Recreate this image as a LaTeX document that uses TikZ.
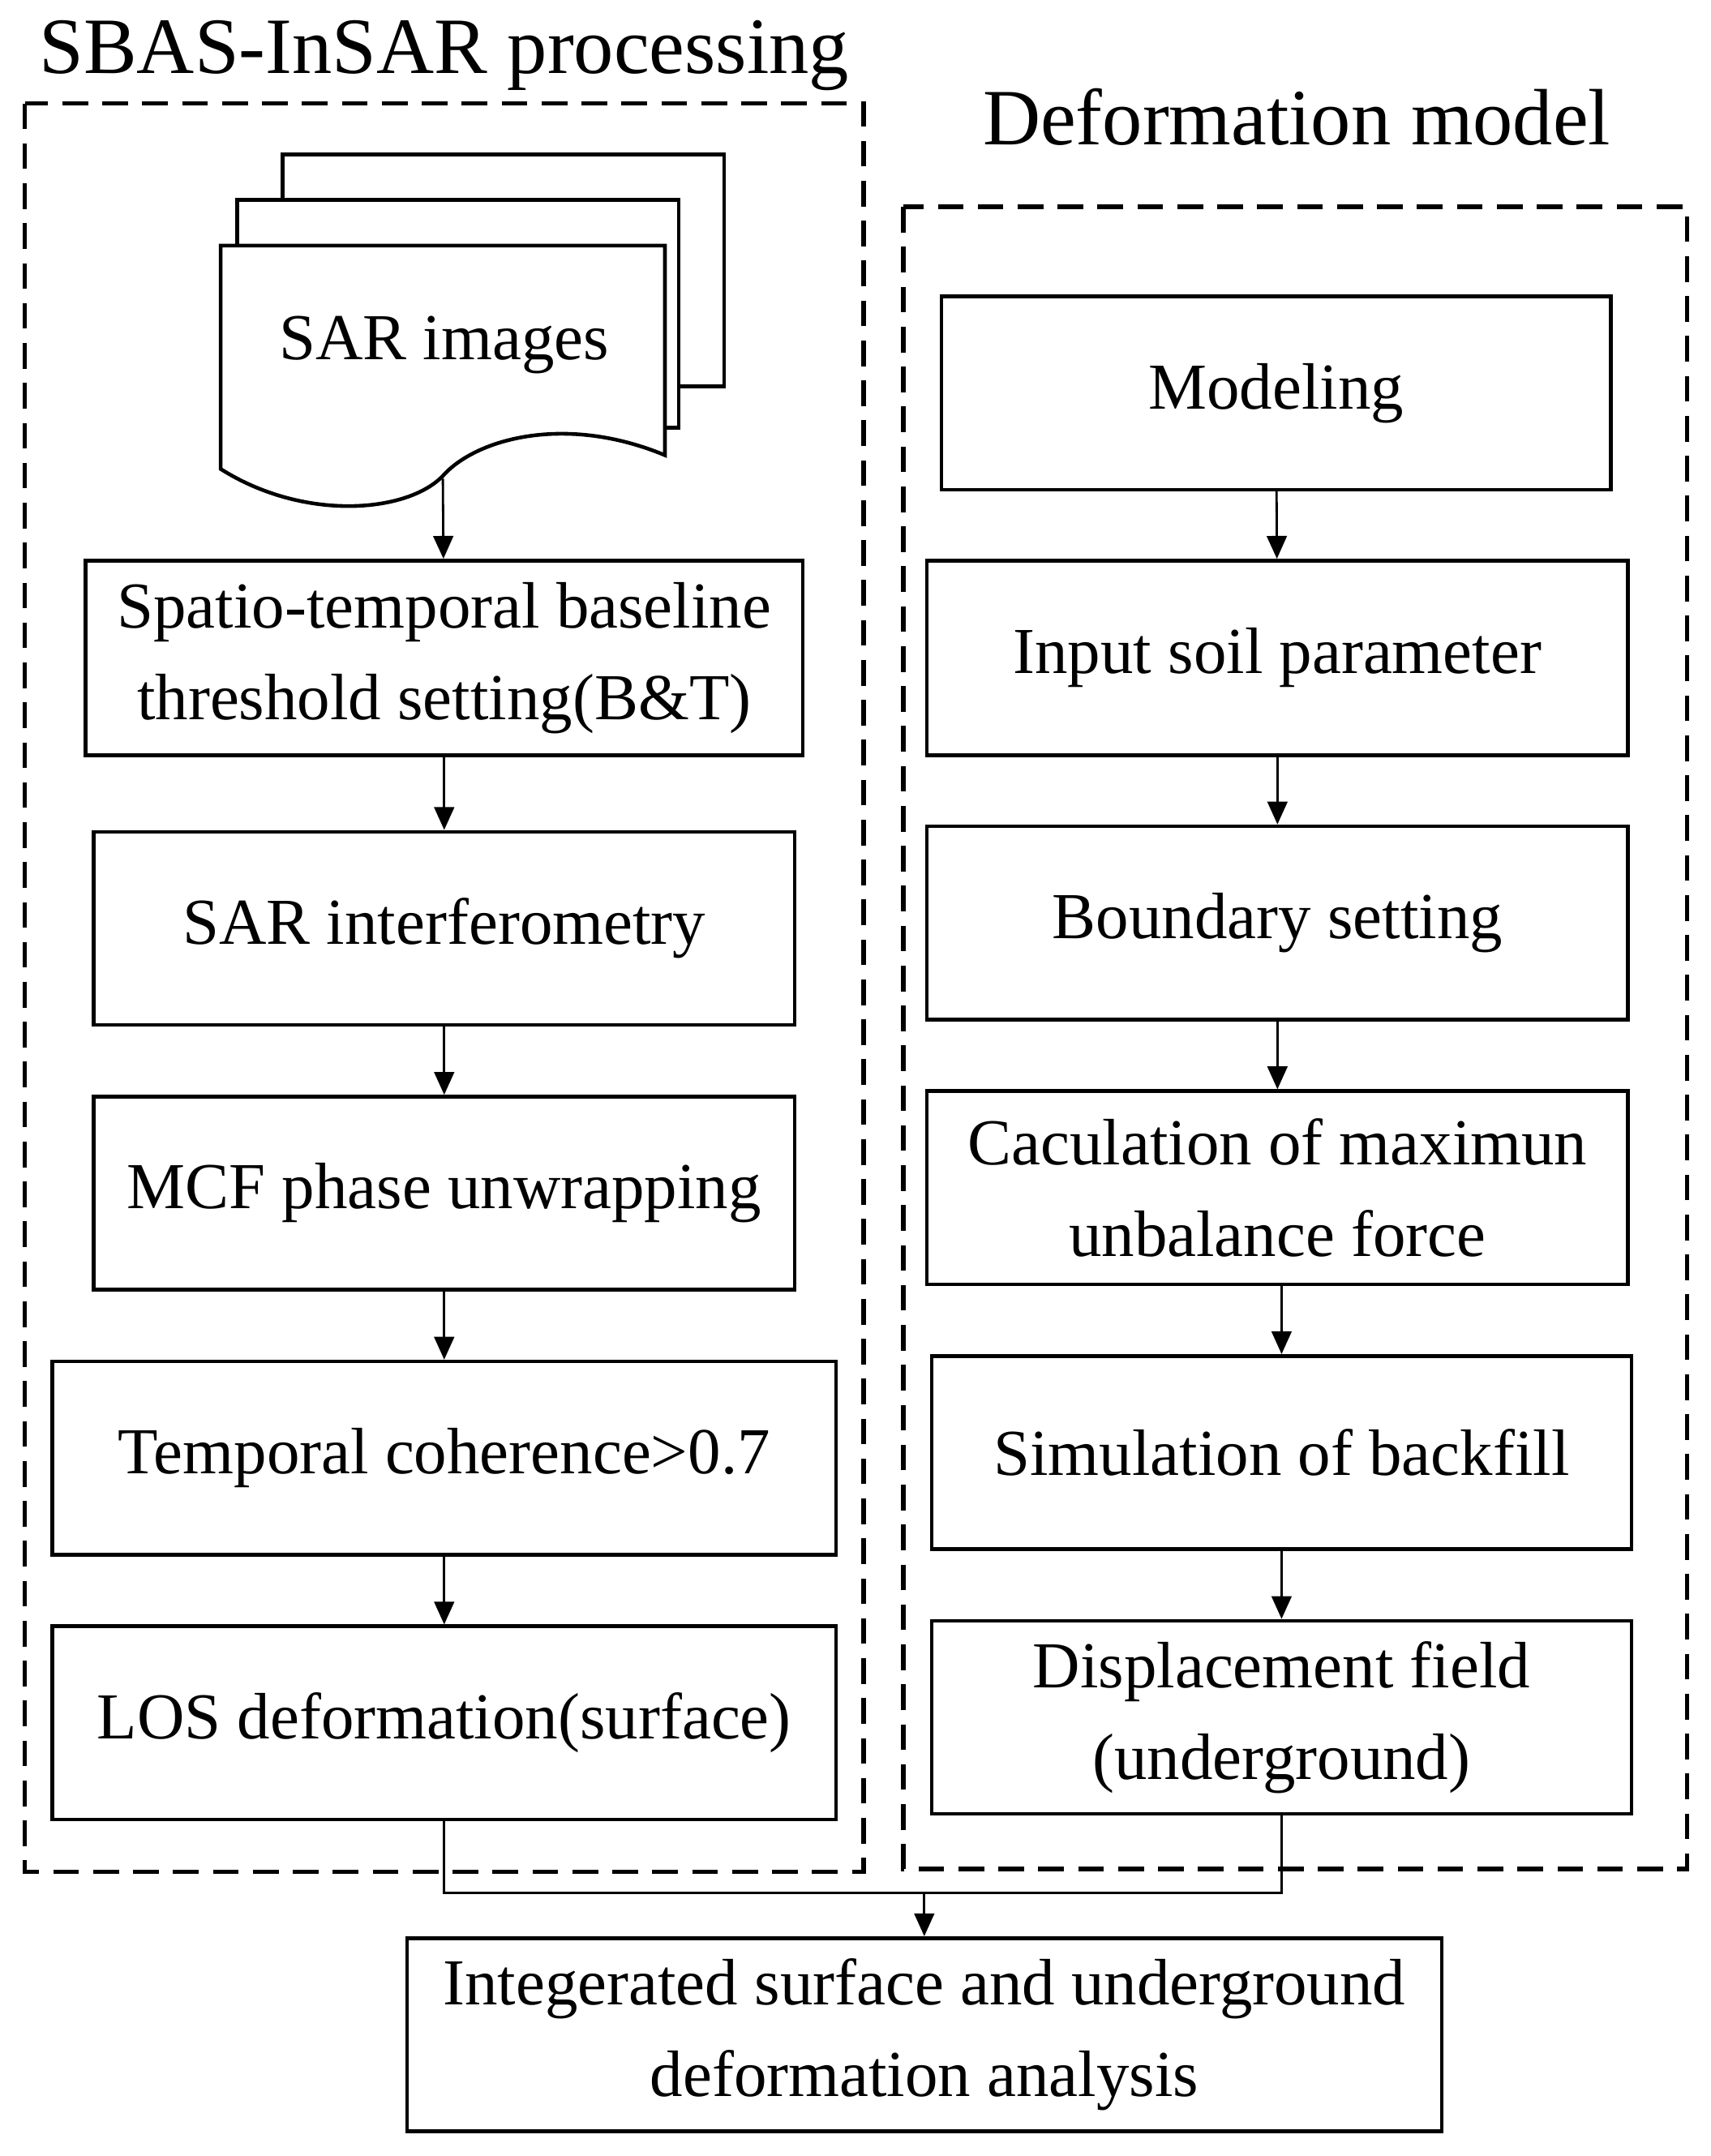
\documentclass[tikz,border=0pt]{standalone}
\usepackage{fontspec}
\setmainfont{Liberation Serif}
\usetikzlibrary{arrows.meta}
\tikzset{
  stepbox/.style={draw,line width=1.3pt,align=center,font=\fontsize{23}{32}\selectfont,inner sep=0pt},
  frame/.style={draw,line width=1.6pt,dash pattern=on 9pt off 5pt},
  flow/.style={line width=0.8pt,-{Triangle[width=7pt,length=8pt]}}
}
\begin{document}
\begin{tikzpicture}[x=0.017cm,y=-0.017cm,line join=miter]
\useasboundingbox (0,0) rectangle (1240,1563);
% group frames
\draw[frame] (18,75) rectangle (626,1357);
\draw[frame] (655,150) rectangle (1223,1355);
\node[font=\fontsize{28}{32}\selectfont] (titleL) at (322,40) {SBAS-InSAR processing};
\node[font=\fontsize{28}{32}\selectfont] (titleR) at (940,85) {Deformation model};
% SAR image stack
\filldraw[fill=white,line width=1.3pt] (205,145)--(205,112)--(525,112)--(525,280)--(492,280);
\filldraw[fill=white,line width=1.3pt] (172,178)--(172,145)--(492,145)--(492,310)--(482,310);
\filldraw[fill=white,line width=1.3pt] (160,178)--(482,178)--(482,330)
   .. controls (410,300) and (345,318) .. (321,345)
   .. controls (295,372) and (220,378) .. (160,340) -- cycle;
\node[font=\fontsize{23}{32}\selectfont] (sarimg) at (322,250) {SAR images};
\coordinate (docbot) at (321,347);
% left column
\node[stepbox,minimum width=8.84cm,minimum height=2.4cm] (base) at (322,477) {Spatio-temporal baseline\\threshold setting(B\&T)};
\node[stepbox,minimum width=8.64cm,minimum height=2.38cm] (ifg) at (322,673) {SAR interferometry};
\node[stepbox,minimum width=8.64cm,minimum height=2.38cm] (mcf) at (322,865) {MCF phase unwrapping};
\node[stepbox,minimum width=9.66cm,minimum height=2.38cm] (coh) at (322,1057) {Temporal coherence>0.7};
\node[stepbox,minimum width=9.66cm,minimum height=2.38cm] (los) at (322,1249) {LOS deformation(surface)};
% right column
\node[stepbox,minimum width=8.25cm,minimum height=2.38cm] (model) at (925,285) {Modeling};
\node[stepbox,minimum width=8.64cm,minimum height=2.4cm] (soil) at (926,477) {Input soil parameter};
\node[stepbox,minimum width=8.64cm,minimum height=2.38cm] (bound) at (926,669) {Boundary setting};
\node[stepbox,minimum width=8.64cm,minimum height=2.38cm] (calc) at (926,861) {Caculation of maximun\\unbalance force};
\node[stepbox,minimum width=8.62cm,minimum height=2.38cm] (backf) at (929,1053) {Simulation of backfill};
\node[stepbox,minimum width=8.62cm,minimum height=2.38cm] (disp) at (929,1245) {Displacement field\\(underground)};
% result
\node[stepbox,minimum width=12.75cm,minimum height=2.38cm] (integ) at (670,1475) {Integerated surface and underground\\deformation analysis};
% connectors
\draw[flow] (docbot) -- (base);
\draw[flow] (base) -- (ifg);
\draw[flow] (ifg) -- (mcf);
\draw[flow] (mcf) -- (coh);
\draw[flow] (coh) -- (los);
\draw[flow] (model) -- (soil);
\draw[flow] (soil) -- (bound);
\draw[flow] (bound) -- (calc);
\draw[flow] (calc.south -| backf) -- (backf);
\draw[flow] (backf) -- (disp);
\coordinate (join) at (670,1372);
\draw[line width=0.8pt] (los.south) |- (join) -| (disp.south);
\draw[flow] (join) -- (integ);
\end{tikzpicture}
\end{document}
